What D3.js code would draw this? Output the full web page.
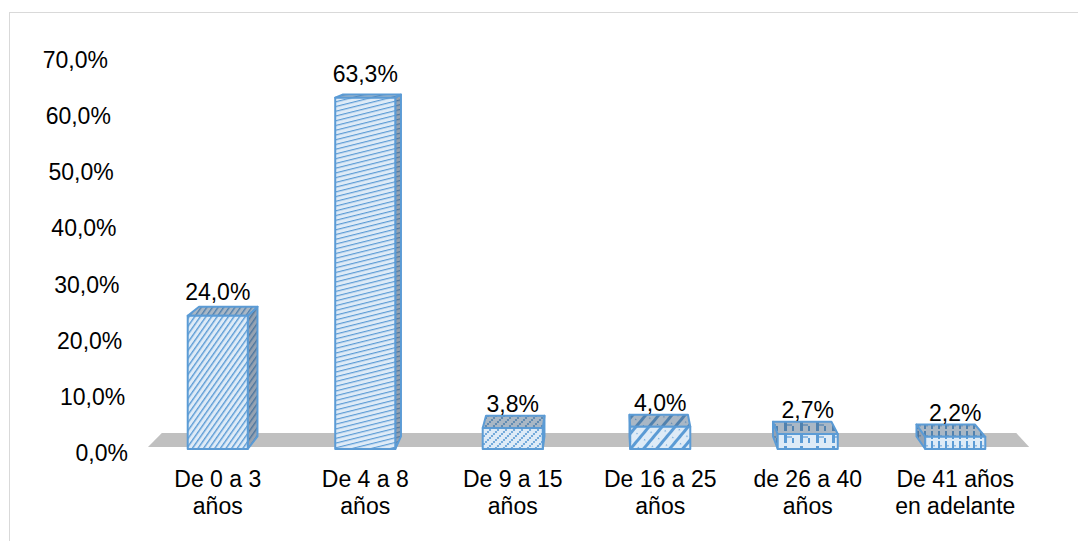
<!DOCTYPE html>
<html>
<head>
<meta charset="utf-8">
<script src="https://cdn.jsdelivr.net/npm/d3@7"></script>
<style>
  html, body { margin: 0; padding: 0; background: #fff; }
  svg { display: block; }
  text { font-family: "Liberation Sans", Arial, sans-serif; fill: #000; }
</style>
</head>
<body>
<svg id="chart" width="1078" height="541"></svg>
<script>
// Antigüedad: porcentaje por rango de años
const categories = [
  ["De 0 a 3", "años"],
  ["De 4 a 8", "años"],
  ["De 9 a 15", "años"],
  ["De 16 a 25", "años"],
  ["de 26 a 40", "años"],
  ["De 41 años", "en adelante"]
];
const values = [24.0, 63.3, 3.8, 4.0, 2.7, 2.2];
const valueLabels = ["24,0%", "63,3%", "3,8%", "4,0%", "2,7%", "2,2%"];
const tickValues = [0, 10, 20, 30, 40, 50, 60, 70];
const tickLabels = ["0,0%", "10,0%", "20,0%", "30,0%", "40,0%", "50,0%", "60,0%", "70,0%"];

const svg = d3.select("#chart");
const W = 1078, H = 541;
const FONT = 23;

// outer frame
svg.append("rect")
  .attr("x", 9.5).attr("y", 12.5)
  .attr("width", W + 20).attr("height", H + 20)
  .attr("fill", "#fff").attr("stroke", "#d9d9d9").attr("stroke-width", 1);

const keys = categories.map((c, i) => i);
const x = d3.scaleBand(keys, [144, 1029]).paddingInner(0.5928).paddingOuter(0.2964);
const y = d3.scaleLinear([0, 70], [449, 60.5]);

// perspective: points recede toward a vanishing point as depth z grows
const vp = { x: 604, y: -15 };
const K = 0.032;
function proj(px, py, z) {
  const s = 1 - K * z;
  return [vp.x + (px - vp.x) * s, vp.y + (py - vp.y) * s];
}
function poly(pts) {
  return "M" + pts.map(p => p[0].toFixed(2) + "," + p[1].toFixed(2)).join("L") + "Z";
}

// fill patterns
const defs = svg.append("defs");
const BG = "#deebf7", LN = "#5b9bd5";
function pattern(id, w, h, draw, transform) {
  const p = defs.append("pattern").attr("id", id)
    .attr("patternUnits", "userSpaceOnUse").attr("width", w).attr("height", h);
  if (transform) p.attr("patternTransform", transform);
  p.append("rect").attr("width", w).attr("height", h).attr("fill", BG);
  draw(p);
}
// wide upward diagonal
pattern("p0", 4.6, 6, p => p.append("rect").attr("x", 0).attr("y", 0).attr("width", 1.4).attr("height", 6).attr("fill", LN), "rotate(35)");
// light shallow diagonal
pattern("p1", 6, 4.6, p => p.append("rect").attr("x", 0).attr("y", 0).attr("width", 6).attr("height", 1.2).attr("fill", LN), "rotate(-14)");
// dotted diamond
pattern("p2", 8, 8, p => {
  [[0,8],[2,6],[4,4],[6,2],[8,0],[0,0],[8,8]].forEach(d =>
    p.append("circle").attr("cx", d[0]).attr("cy", d[1]).attr("r", 1.1).attr("fill", LN));
});
// wide diagonal bands
pattern("p3", 10, 10, p => {
  p.append("rect").attr("x", 0).attr("y", 0).attr("width", 3).attr("height", 10).attr("fill", LN);
  p.append("rect").attr("x", 6).attr("y", 2).attr("width", 1.2).attr("height", 1.2).attr("fill", LN);
}, "rotate(40)");
// shingle
pattern("p4", 16, 12, p => {
  p.append("rect").attr("x", 0).attr("y", 2).attr("width", 3).attr("height", 9).attr("fill", LN);
  p.append("rect").attr("x", 3).attr("y", 4).attr("width", 5).attr("height", 2).attr("fill", LN).attr("opacity", 0.6);
  p.append("rect").attr("x", 8).attr("y", 6).attr("width", 2).attr("height", 5).attr("fill", LN);
});
// small divots
pattern("p5", 7, 10, p => {
  p.append("rect").attr("x", 0).attr("y", 1).attr("width", 2).attr("height", 8).attr("fill", LN);
  p.append("rect").attr("x", 2).attr("y", 5).attr("width", 2).attr("height", 1.5).attr("fill", LN).attr("opacity", 0.6);
});

// floor
const floorZ0 = 0.135, floorZ1 = 1.08;
const fx0 = 146, fx1 = 1031, fy = y(0);
svg.append("path")
  .attr("d", poly([proj(fx0, fy, floorZ0), proj(fx1, fy, floorZ0), proj(fx1, fy, floorZ1), proj(fx0, fy, floorZ1)]))
  .attr("fill", "#c0c0c0");

// y axis labels along the receding value axis
const labelY = d3.scaleLinear([0, 70], [453, 60]);
const labelX = d3.scaleLinear([0, 70], [128, 108]);
svg.append("g").selectAll("text").data(tickValues).join("text")
  .attr("x", d => labelX(d))
  .attr("y", d => labelY(d))
  .attr("dy", "0.35em")
  .attr("text-anchor", "end")
  .attr("font-size", FONT)
  .text((d, i) => tickLabels[i]);

// 3D bars
const depth = 0.85;
const bars = svg.append("g");
keys.forEach(i => {
  const x0 = x(i), x1 = x(i) + x.bandwidth();
  const yb = y(0), yt = y(values[i]);
  const g = bars.append("g");
  const pid = "url(#p" + i + ")";
  const faces = [];
  // side face toward the vanishing point
  if (x1 < vp.x) {
    faces.push({ d: poly([proj(x1, yt, 0), proj(x1, yt, depth), proj(x1, yb, depth), proj(x1, yb, 0)]), shade: 0.45 });
  } else if (x0 > vp.x) {
    faces.push({ d: poly([proj(x0, yt, 0), proj(x0, yt, depth), proj(x0, yb, depth), proj(x0, yb, 0)]), shade: 0.45 });
  }
  // top face
  faces.push({ d: poly([proj(x0, yt, 0), proj(x1, yt, 0), proj(x1, yt, depth), proj(x0, yt, depth)]), shade: 0.32 });
  // front face
  faces.push({ d: poly([proj(x0, yt, 0), proj(x1, yt, 0), proj(x1, yb, 0), proj(x0, yb, 0)]), shade: 0 });
  faces.forEach(f => {
    g.append("path").attr("d", f.d).attr("fill", pid);
    if (f.shade > 0) g.append("path").attr("d", f.d).attr("fill", "#3b4a5e").attr("opacity", f.shade);
    g.append("path").attr("d", f.d).attr("fill", "none")
      .attr("stroke", LN).attr("stroke-width", 2).attr("stroke-linejoin", "round");
  });
});

// value labels
svg.append("g").selectAll("text").data(keys).join("text")
  .attr("x", i => x(i) + x.bandwidth() / 2)
  .attr("y", i => y(values[i]) - 16)
  .attr("text-anchor", "middle")
  .attr("font-size", FONT)
  .text(i => valueLabels[i]);

// category labels (two lines)
const cat = svg.append("g").selectAll("text").data(keys).join("text")
  .attr("text-anchor", "middle")
  .attr("font-size", FONT);
cat.append("tspan").attr("x", i => x(i) + x.bandwidth() / 2).attr("y", 487).text(i => categories[i][0]);
cat.append("tspan").attr("x", i => x(i) + x.bandwidth() / 2).attr("y", 514).text(i => categories[i][1]);
</script>
</body>
</html>
